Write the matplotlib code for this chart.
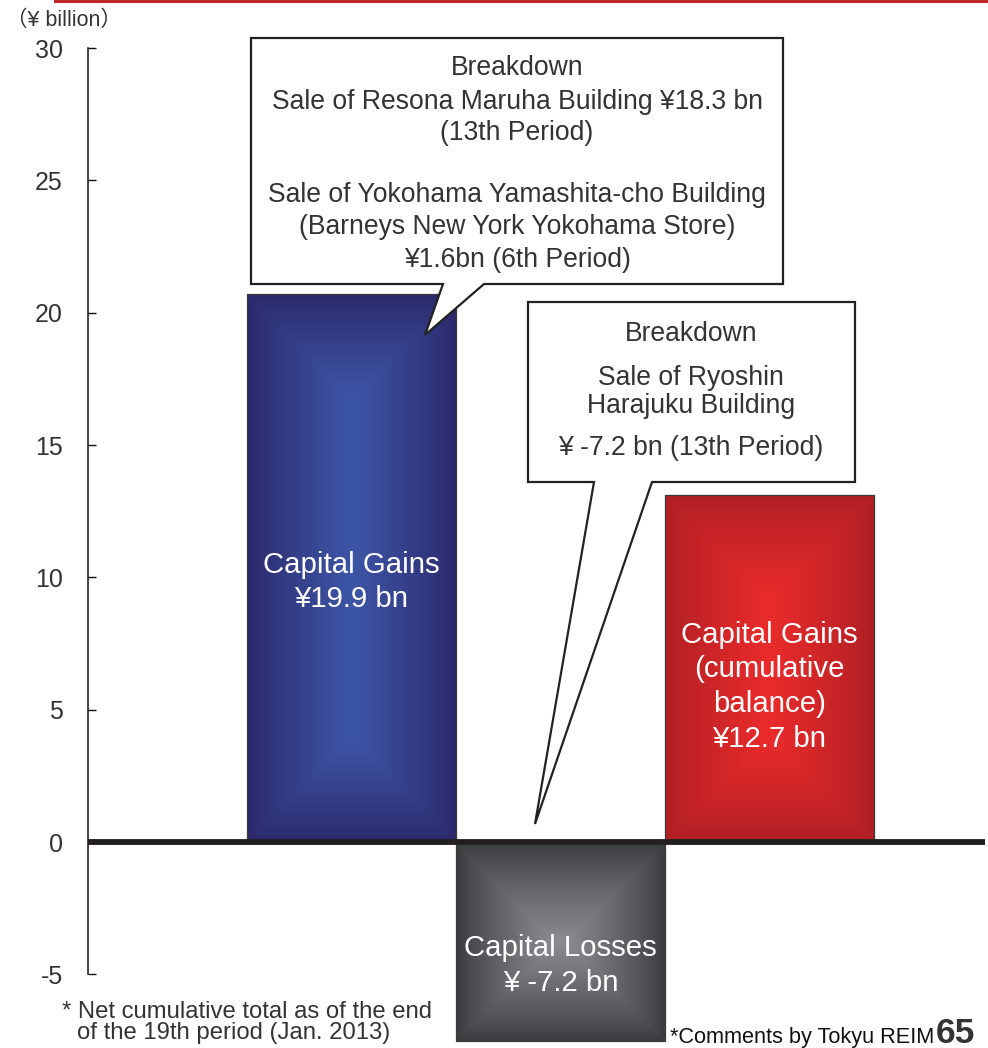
import numpy as np
import matplotlib
matplotlib.use('Agg')
import matplotlib.pyplot as plt
from matplotlib.colors import LinearSegmentedColormap
from matplotlib.patches import Polygon, Rectangle

plt.rcParams['font.family'] = ['Liberation Sans', 'DejaVu Sans']

# ---------------- data ----------------
categories = ['Capital Gains', 'Capital Losses', 'Capital Gains (cumulative balance)']
positions = [1, 2, 3]
values = [20.7, -7.5, 13.1]
bar_labels = ['Capital Gains\n¥19.9 bn',
              'Capital Losses\n¥ -7.2 bn',
              'Capital Gains\n(cumulative\nbalance)\n¥12.7 bn']
label_y = [9.82, -4.67, 5.87]
yticks = [-5, 0, 5, 10, 15, 20, 25, 30]
ytick_labels = ['-5', '0', '5', '10', '15', '20', '25', '30']

callout1_lines = ['Breakdown',
                  'Sale of Resona Maruha Building ¥18.3 bn',
                  '(13th Period)',
                  'Sale of Yokohama Yamashita-cho Building',
                  '(Barneys New York Yokohama Store)',
                  '¥1.6bn (6th Period)']
callout2_lines = ['Breakdown',
                  'Sale of Ryoshin',
                  'Harajuku Building',
                  '¥ -7.2 bn (13th Period)']

# gradient colours (edge, centre)
grad_colors = [('#2b2869', '#3d55a6'),
               ('#3a3b3d', '#8e8f94'),
               ('#ae1f24', '#ea2b2b')]

W, H = 988, 1048
fig = plt.figure(figsize=(W / 100, H / 100), dpi=100)

def px(x, y):
    return (x / W, 1 - y / H)

# axes: left spine at x=88 px, y=30 at 48 px, bottom at ~1043 px
ax_left, ax_right = 88, 985
y_top_px, y_bot_px = 48, 1043.4
ax = fig.add_axes([ax_left / W, 1 - y_bot_px / H, (ax_right - ax_left) / W, (y_bot_px - y_top_px) / H])
ax.set_facecolor('none')

bar_w = 1.0
bars = ax.bar(positions, values, width=bar_w, color='none', edgecolor='#3a3a3a', linewidth=0.9, zorder=3)

# rectangular (path) gradient fills
for b, (c_edge, c_mid) in zip(bars, grad_colors):
    x0 = b.get_x()
    y0 = min(b.get_y(), b.get_y() + b.get_height())
    h = abs(b.get_height())
    pw = 209.0
    ph = h * 26.47
    nx, ny = 200, max(50, int(ph))
    u = (np.arange(nx) + 0.5) / nx * pw
    v = (np.arange(ny) + 0.5) / ny * ph
    dx = np.minimum(u, pw - u)[None, :]
    dy = np.minimum(v, ph - v)[:, None]
    d = np.minimum(dx, dy) / (pw / 2)
    t = np.clip(d, 0, 1) ** 0.85
    cmap = LinearSegmentedColormap.from_list('g', [c_edge, c_mid])
    im = ax.imshow(t, cmap=cmap, vmin=0, vmax=1, extent=[x0, x0 + bar_w, y0, y0 + h],
                   aspect='auto', origin='lower', zorder=2, interpolation='bilinear')
    clip = Rectangle((x0, y0), bar_w, h, transform=ax.transData)
    im.set_clip_path(clip)

for x, lab, ly in zip(positions, bar_labels, label_y):
    ax.text(x, ly, lab, ha='center', va='center', color='white', fontsize=21.2,
            linespacing=1.3, zorder=4)

ax.set_xlim(1 - (351.5 - ax_left) / 209, 1 + (ax_right - 351.5) / 209)
ax.set_ylim(30 - (y_bot_px - y_top_px) / 26.47, 30)

ax.axhline(0, color='#231f20', linewidth=4.2, zorder=5)

for s in ['top', 'right', 'bottom']:
    ax.spines[s].set_visible(False)
ax.spines['left'].set_bounds(-5, 30)
ax.spines['left'].set_linewidth(1.1)
ax.spines['left'].set_color('#111111')
ax.set_xticks([])
ax.set_yticks(yticks)
ax.set_yticklabels(ytick_labels)
ax.tick_params(axis='y', direction='in', length=6, width=1.0, colors='#111111',
               labelcolor='#333333', labelsize=18, pad=18)

# unit label and decorative red rule
fig.text(*px(6, 20), '（¥ billion）', fontsize=15.5, color='#333333', ha='left', va='center',
         family=['Liberation Sans', 'Noto Sans CJK JP', 'DejaVu Sans'])
fig.add_artist(plt.Line2D([55 / W, 1], [1 - 1 / H, 1 - 1 / H], color='#c0272d', linewidth=2.2))

# callouts
def callout(box, base, tip):
    x0, y0, x1, y1 = box
    pts = [(x0, y0), (x1, y0), (x1, y1), (base[1], y1), tip, (base[0], y1), (x0, y1)]
    poly = Polygon([px(*p) for p in pts], closed=True, transform=fig.transFigure,
                   facecolor='white', edgecolor='#222222', linewidth=1.6, zorder=10)
    fig.add_artist(poly)

callout((251, 38, 783, 284), (443, 484), (425, 335))
callout((528, 302, 855, 482), (594, 652), (535, 824))

for ln, yy in zip(callout1_lines, [68, 102, 133, 195, 227, 260]):
    t = fig.text(*px(517, yy), ln, ha='center', va='center', fontsize=19.1, color='#333333')
    t.set_zorder(11)
for ln, yy in zip(callout2_lines, [334, 378, 406, 448]):
    t = fig.text(*px(691, yy), ln, ha='center', va='center', fontsize=19.1, color='#333333')
    t.set_zorder(11)

# footnotes
fig.text(*px(62, 1012), '* Net cumulative total as of the end', fontsize=17.2, color='#333333',
         ha='left', va='center')
fig.text(*px(77, 1033), 'of the 19th period (Jan. 2013)', fontsize=17.2, color='#333333',
         ha='left', va='center')
fig.text(*px(934, 1037), '*Comments by Tokyu REIM', fontsize=15.7, color='#111111',
         ha='right', va='center')
fig.text(*px(936, 1043), '65', fontsize=25.5, fontweight='bold', color='#333333',
         ha='left', va='baseline')

fig.savefig('out.png', dpi=100)
